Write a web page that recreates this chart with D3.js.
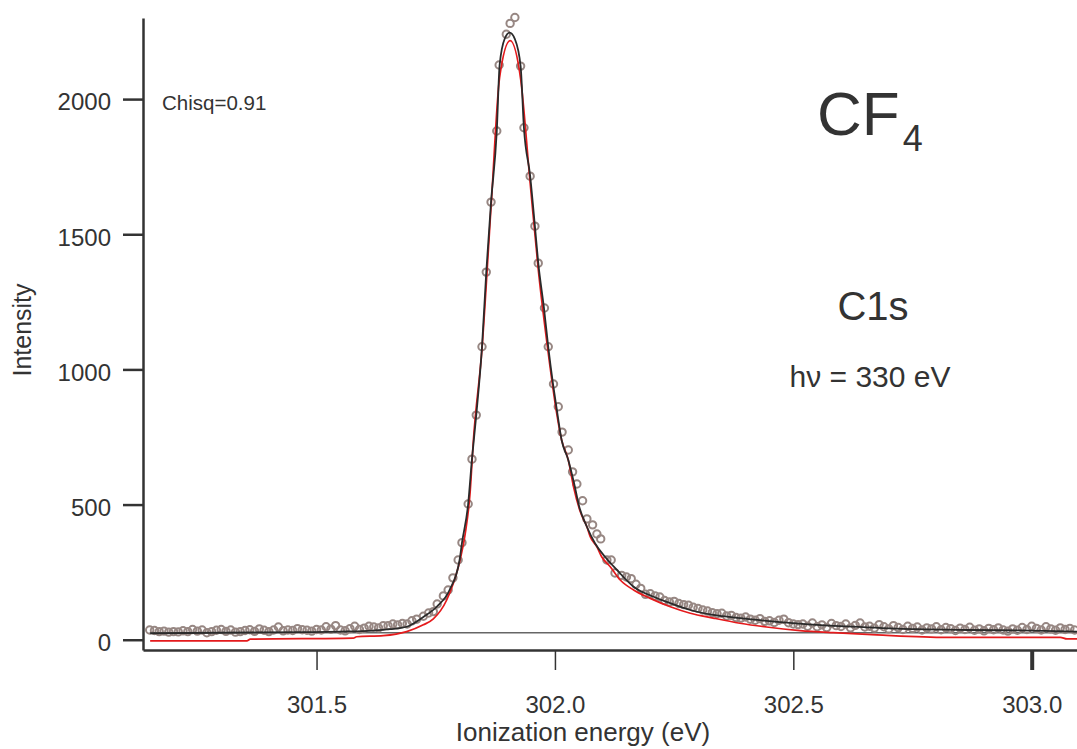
<!DOCTYPE html>
<html>
<head>
<meta charset="utf-8">
<script src="https://cdn.jsdelivr.net/npm/d3@7"></script>
<style>
  body { margin: 0; background: #fff; }
  svg { display: block; font-family: "Liberation Sans", Arial, Helvetica, sans-serif; }
</style>
</head>
<body>
<svg id="chart" width="1077" height="749"></svg>
<script>
// measured points (open circles)
const energy = [
  301.15, 301.16, 301.17, 301.18, 301.19, 301.20, 301.21, 301.22, 301.23, 301.24,
  301.25, 301.26, 301.27, 301.28, 301.29, 301.30, 301.31, 301.32, 301.33, 301.34,
  301.35, 301.36, 301.37, 301.38, 301.39, 301.40, 301.41, 301.42, 301.43, 301.44,
  301.45, 301.46, 301.47, 301.48, 301.49, 301.50, 301.51, 301.52, 301.53, 301.54,
  301.55, 301.56, 301.57, 301.58, 301.59, 301.60, 301.61, 301.62, 301.63, 301.64,
  301.65, 301.66, 301.67, 301.68, 301.69, 301.70, 301.71,
  301.724, 301.735, 301.745, 301.753, 301.766, 301.776, 301.786, 301.797, 301.805, 301.818,
  301.826, 301.835, 301.847, 301.856, 301.866, 301.878, 301.883, 301.898, 301.906, 301.916,
  301.928, 301.935, 301.948, 301.958, 301.965, 301.978, 301.986, 301.997, 302.007, 302.015,
  302.028, 302.037, 302.046, 302.058, 302.067, 302.079, 302.088, 302.096, 302.109, 302.118,
  302.126,
  302.14, 302.15, 302.16, 302.17, 302.18, 302.19, 302.20, 302.21, 302.22, 302.23,
  302.24, 302.25, 302.26, 302.27, 302.28, 302.29, 302.30, 302.31, 302.32, 302.33,
  302.34, 302.35, 302.36, 302.37, 302.38, 302.39, 302.40, 302.41, 302.42, 302.43,
  302.44, 302.45, 302.46, 302.47, 302.48, 302.49, 302.50, 302.51, 302.52, 302.53,
  302.54, 302.55, 302.56, 302.57, 302.58, 302.59, 302.60, 302.61, 302.62, 302.63,
  302.64, 302.65, 302.66, 302.67, 302.68, 302.69, 302.70, 302.71, 302.72, 302.73,
  302.74, 302.75, 302.76, 302.77, 302.78, 302.79, 302.80, 302.81, 302.82, 302.83,
  302.84, 302.85, 302.86, 302.87, 302.88, 302.89, 302.90, 302.91, 302.92, 302.93,
  302.94, 302.95, 302.96, 302.97, 302.98, 302.99, 303.00, 303.01, 303.02, 303.03,
  303.04, 303.05, 303.06, 303.07, 303.08, 303.09
];
const counts = [
  36, 34, 30, 32, 28, 30, 29, 33, 30, 38,
  32, 36, 26, 30, 35, 38, 31, 36, 28, 30,
  34, 37, 31, 40, 35, 30, 36, 47, 33, 36,
  34, 41, 37, 35, 32, 38, 36, 48, 39, 52,
  36, 33, 41, 50, 38, 43, 50, 47, 44, 52,
  52, 58, 55, 60, 58, 70, 76,
  87, 99, 104, 132, 162, 184, 229, 295, 359, 502,
  668, 831, 1084, 1360, 1619, 1882, 2126, 2240, 2280, 2302,
  2122, 1894, 1715, 1530, 1393, 1227, 1084, 946, 862, 768,
  702, 621, 576, 514, 447, 425, 391, 373, 295, 295,
  247,
  238, 232, 226, 205, 190, 168, 170, 162, 158, 145,
  140, 142, 134, 130, 128, 120, 116, 110, 106, 100,
  96, 98, 88, 90, 82, 80, 84, 76, 72, 78,
  68, 70, 64, 72, 76, 63, 58, 56, 58, 50,
  62, 48, 55, 45, 60, 52, 49, 58, 44, 53,
  62, 47, 50, 43, 56, 48, 40, 52, 45, 38,
  50, 42, 47, 36, 44, 40, 48, 37, 45, 41,
  34, 43, 38, 46, 35, 40, 33, 42, 37, 44,
  36, 32, 40, 35, 45, 38, 50, 42, 36, 48,
  40, 35, 44, 38, 42, 36
];

// fit curve (black)
const fitEnergy = [
  301.151, 301.479, 301.549, 301.619, 301.654, 301.689, 301.724, 301.752, 301.779, 301.800,
  301.805, 301.818, 301.826, 301.835, 301.847, 301.856, 301.866, 301.878, 301.884, 301.895,
  301.905, 301.916, 301.928, 301.935, 301.948, 301.958, 301.965, 301.977, 301.986, 301.996,
  302.003, 302.014, 302.028, 302.040, 302.051, 302.067, 302.084, 302.105, 302.130, 302.165,
  302.207, 302.242, 302.284, 302.332, 302.388, 302.444, 302.549, 302.654, 302.759, 302.864,
  303.003, 303.096
];
const fitIntensity = [
  24, 28, 30, 34, 39, 48, 84, 122, 184, 295,
  358, 502, 669, 831, 1083, 1360, 1619, 1881, 2126, 2225,
  2246, 2222, 2122, 1893, 1716, 1530, 1394, 1227, 1083, 946,
  862, 739, 665, 580, 492, 418, 357, 307, 258, 196,
  159, 135, 110, 92, 80, 70, 55, 46, 39, 36,
  34, 30
];

// second curve (red)
const redEnergy = [
  301.151, 301.354, 301.361, 301.577, 301.584, 301.640, 301.689, 301.724, 301.745, 301.773,
  301.787, 301.801, 301.812, 301.822, 301.829, 301.847, 301.866, 301.884, 301.906, 301.928,
  301.948, 301.965, 301.986, 302.003, 302.014, 302.028, 302.039, 302.053, 302.067, 302.074,
  302.088, 302.098, 302.116, 302.137, 302.165, 302.200, 302.242, 302.284, 302.332, 302.388,
  302.444, 302.514, 302.584, 302.675, 302.822, 303.060, 303.074, 303.096
];
const redIntensity = [
  -4, -4, 2, 6, 11, 15, 30, 55, 77, 147,
  209, 295, 394, 542, 739, 1075, 1600, 2080, 2216, 2075,
  1690, 1370, 1060, 845, 739, 665, 566, 474, 418, 381,
  344, 307, 270, 221, 184, 153, 122, 98, 80, 61,
  47, 34, 26, 18, 9, 9, 3, 3
];

const baselineLevel = 26;
const xTicks = [301.5, 302.0, 302.5, 303.0];
const yTicks = [0, 500, 1000, 1500, 2000];

const svg = d3.select('#chart');
const ink = '#333';

let x = d3.scaleLinear().domain([301.136, 303.095]).range([143, 1077]);
let y = d3.scaleLinear().domain([-38, 2300]).range([650, 18]);

// axes
let xAxis = svg.append('g')
    .attr('transform', 'translate(0,650)')
    .call(d3.axisBottom(x).tickValues(xTicks).tickFormat(d3.format('.1f'))
        .tickSize(20).tickSizeOuter(0).tickPadding(26));
xAxis.attr('font-family', null).attr('font-size', null);
xAxis.select('.domain').attr('stroke', ink).attr('stroke-width', 2.5);
xAxis.selectAll('.tick line').attr('stroke', ink).attr('stroke-width', (d) => d === 303 ? 4 : 1.5);
xAxis.selectAll('.tick text').attr('fill', ink).attr('font-size', 24);

let yAxis = svg.append('g')
    .attr('transform', 'translate(143,0)')
    .call(d3.axisLeft(y).tickValues(yTicks).tickFormat(d3.format('d'))
        .tickSize(20).tickSizeOuter(0).tickPadding(12));
yAxis.attr('font-family', null).attr('font-size', null);
yAxis.select('.domain').attr('stroke', ink).attr('stroke-width', 2.5);
yAxis.selectAll('.tick line').attr('stroke', ink).attr('stroke-width', 2.5);
yAxis.selectAll('.tick text').attr('fill', ink).attr('font-size', 24).attr('dy', '0.45em');

// axis titles
svg.append('text')
    .attr('transform', 'translate(31,330) rotate(-90)')
    .attr('text-anchor', 'middle')
    .attr('font-size', 25)
    .attr('fill', ink)
    .text('Intensity');

svg.append('text')
    .attr('x', 583).attr('y', 741)
    .attr('text-anchor', 'middle')
    .attr('font-size', 26)
    .attr('fill', ink)
    .text('Ionization energy (eV)');

// background level
svg.append('line')
    .attr('x1', x(energy[0])).attr('x2', x.range()[1])
    .attr('y1', y(baselineLevel)).attr('y2', y(baselineLevel))
    .attr('stroke', '#666').attr('stroke-width', 1.6);

// data points
let points = d3.zip(energy, counts);
svg.append('g')
    .selectAll('circle')
    .data(points)
    .join('circle')
    .attr('cx', (d) => x(d[0]))
    .attr('cy', (d) => y(d[1]))
    .attr('r', 3.7)
    .attr('fill', 'none')
    .attr('stroke', '#978783')
    .attr('stroke-width', 2);

let line = d3.line()
    .x((d) => x(d[0]))
    .y((d) => y(d[1]))
    .curve(d3.curveMonotoneX);

svg.append('path')
    .attr('d', line(d3.zip(redEnergy, redIntensity)))
    .attr('fill', 'none')
    .attr('stroke', '#e41a1c')
    .attr('stroke-width', 1.7);

svg.append('path')
    .attr('d', line(d3.zip(fitEnergy, fitIntensity)))
    .attr('fill', 'none')
    .attr('stroke', '#2a2a2a')
    .attr('stroke-width', 1.8);

// annotations
svg.append('text')
    .attr('x', 162).attr('y', 110)
    .attr('font-size', 20.5)
    .attr('fill', ink)
    .text('Chisq=0.91');

let title = svg.append('text')
    .attr('x', 817).attr('y', 135)
    .attr('font-size', 62)
    .attr('fill', ink);
title.append('tspan').text('CF');
title.append('tspan').attr('dx', 3).attr('dy', 16).attr('font-size', 36).text('4');

svg.append('text')
    .attr('x', 873).attr('y', 320)
    .attr('text-anchor', 'middle')
    .attr('font-size', 40)
    .attr('fill', ink)
    .text('C1s');

svg.append('text')
    .attr('x', 870).attr('y', 387)
    .attr('text-anchor', 'middle')
    .attr('font-size', 30)
    .attr('fill', ink)
    .text('hν = 330 eV');
</script>
</body>
</html>
